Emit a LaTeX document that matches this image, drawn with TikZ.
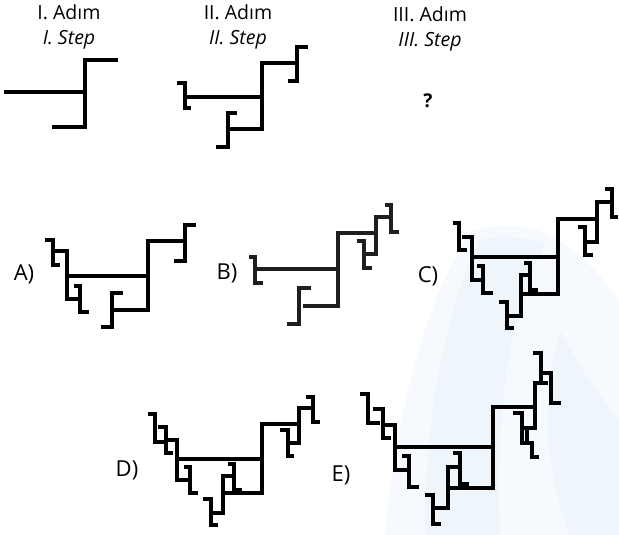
\documentclass[tikz,border=0pt]{standalone}
\usepackage{fontspec}
\setmainfont{Open Sans}
\definecolor{wmblue}{RGB}{238,246,252}
\definecolor{wmblue2}{RGB}{246,250,254}
\begin{document}
\begin{tikzpicture}[x=1pt,y=-1pt,
  ln/.style={line width=3.8pt,line join=miter,line cap=butt,draw=black},
  lnb/.style={ln,draw=black!88},
  hdr/.style={anchor=base,font=\fontsize{19.5}{23}\selectfont,inner sep=0pt},
  hdri/.style={hdr,font=\fontsize{19.5}{23}\selectfont\itshape},
  lab/.style={font=\fontsize{22}{26}\selectfont,inner sep=0pt}]
\useasboundingbox (0,0) rectangle (619,535);
% watermark
\fill[wmblue2] (470,232) .. controls (425,300) and (395,420) .. (385,535) -- (619,535) -- (619,300) .. controls (590,260) and (560,235) .. (530,228) .. controls (505,224) and (485,226) .. (470,232) -- cycle;
\fill[wmblue] (480,240) .. controls (445,310) and (425,420) .. (425,535) -- (500,535) .. controls (495,430) and (505,320) .. (545,245) .. controls (525,236) and (500,235) .. (480,240) -- cycle;
\fill[wmblue] (560,330) .. controls (540,400) and (545,470) .. (570,535) -- (619,535) -- (619,420) .. controls (595,390) and (575,360) .. (560,330) -- cycle;
% headers
\node[hdr] (h1) at (69,20) {I. Adım};
\node[hdri] (h1e) at (69,45) {I. Step};
\node[hdr] (h2) at (238,20) {II. Adım};
\node[hdri] (h2e) at (238,45) {II. Step};
\node[hdr] (h3) at (430,22) {III. Adım};
\node[hdri] (h3e) at (430,47) {III. Step};
\node[font=\fontsize{19}{22}\selectfont\bfseries,inner sep=0pt] (q) at (428,101) {?};
% labels
\node[lab] (la) at (24,274) {A)};
\node[lab] (lb) at (227,273) {B)};
\node[lab] (lc) at (428,276) {C)};
\node[lab] (ld) at (127,470) {D)};
\node[lab] (le) at (341,475) {E)};
% Step I
\draw[ln] (4,92) -- (85,92);
\draw[ln] (118,60) -- (85,60) -- (85,127) -- (52,127);
% Step II
\draw[ln] (185,97) -- (262,97);
\draw[ln] (297,63) -- (262,63) -- (262,129) -- (228,129);
\draw[ln] (308,47) -- (297,47) -- (297,81) -- (288,81);
\draw[ln] (237,113) -- (228,113) -- (228,147) -- (216,147);
\draw[ln] (177,83) -- (185,83) -- (185,108) -- (191,108);
% Option A
\draw[ln] (67,276) -- (148,276);
\draw[ln] (183,241) -- (148,241) -- (148,310) -- (113,310);
\draw[ln] (196,225) -- (185,225) -- (185,261) -- (174,261);
\draw[ln] (123,293) -- (112,293) -- (112,327) -- (101,327);
\draw[ln] (53,251) -- (67,251) -- (67,299) -- (79,299);
\draw[ln] (45,240) -- (53,240) -- (53,265) -- (60,265);
\draw[ln] (74,286) -- (80,286) -- (80,312) -- (89,312);
% Option B
\draw[lnb] (255,269) -- (338,269);
\draw[lnb] (376,233) -- (338,233) -- (338,306) -- (303,306);
\draw[lnb] (391,217) -- (376,217) -- (376,254) -- (364,254);
\draw[lnb] (385,205) -- (391,205) -- (391,232) -- (399,232);
\draw[lnb] (357,241) -- (364,241) -- (364,268) -- (372,268);
\draw[lnb] (311,288) -- (299,288) -- (299,324) -- (287,324);
\draw[lnb] (249,257) -- (255,257) -- (255,283) -- (263,283);
% Option C
\draw[ln] (472,257) -- (558,257);
\draw[ln] (597,219) -- (558,219) -- (558,294) -- (521,294);
\draw[ln] (612,202) -- (597,202) -- (597,242) -- (585,242);
\draw[ln] (605,189) -- (612,189) -- (612,217) -- (618,217);
\draw[ln] (578,227) -- (585,227) -- (585,255) -- (593,255);
\draw[ln] (530,275) -- (521,275) -- (521,316) -- (507,316);
\draw[ln] (524,263) -- (530,263) -- (530,290) -- (538,290);
\draw[ln] (499,302) -- (507,302) -- (507,328) -- (514,328);
\draw[ln] (462,237) -- (472,237) -- (472,280) -- (482,280);
\draw[ln] (453,223) -- (459,223) -- (459,250) -- (467,250);
\draw[ln] (477,266) -- (483,266) -- (483,293) -- (493,293);
% Option D
\draw[ln] (177,459) -- (262,459);
\draw[ln] (298,424) -- (262,424) -- (262,493) -- (223,493);
\draw[ln] (312,408) -- (299,408) -- (299,443) -- (288,443);
\draw[ln] (306,397) -- (313,397) -- (313,422) -- (320,422);
\draw[ln] (280,430) -- (288,430) -- (288,456) -- (294,456);
\draw[ln] (234,476) -- (223,476) -- (223,513) -- (211,513);
\draw[ln] (228,464) -- (234,464) -- (234,490) -- (242,490);
\draw[ln] (203,499) -- (211,499) -- (211,525) -- (218,525);
\draw[ln] (166,440) -- (177,440) -- (177,480) -- (190,480);
\draw[ln] (158,427) -- (166,427) -- (166,453) -- (173,453);
\draw[ln] (148,414) -- (155,414) -- (155,442) -- (165,442);
\draw[ln] (184,467) -- (190,467) -- (190,493) -- (198,493);
% Option E
\draw[ln] (395,447) -- (493,447);
\draw[ln] (535,407) -- (493,407) -- (493,488) -- (448,488);
\draw[ln] (459,467) -- (448,467) -- (448,508) -- (433,508);
\draw[ln] (453,453) -- (460,453) -- (460,484) -- (469,484);
\draw[ln] (425,495) -- (433,495) -- (433,524) -- (441,524);
\draw[ln] (383,425) -- (395,425) -- (395,470) -- (409,470);
\draw[ln] (373,409) -- (383,409) -- (383,438) -- (391,438);
\draw[ln] (360,394) -- (368,394) -- (368,423) -- (380,423);
\draw[ln] (402,456) -- (409,456) -- (409,487) -- (419,487);
\draw[ln] (548,383) -- (535,383) -- (535,428) -- (522,428);
\draw[ln] (533,353) -- (541,353) -- (541,385);
\draw[ln] (543,373) -- (551,373) -- (551,403) -- (561,403);
\draw[ln] (513,413) -- (522,413) -- (522,443) -- (532,443) -- (532,457) -- (539,457);
\draw[ln] (527,427) -- (527,443);
\end{tikzpicture}
\end{document}
